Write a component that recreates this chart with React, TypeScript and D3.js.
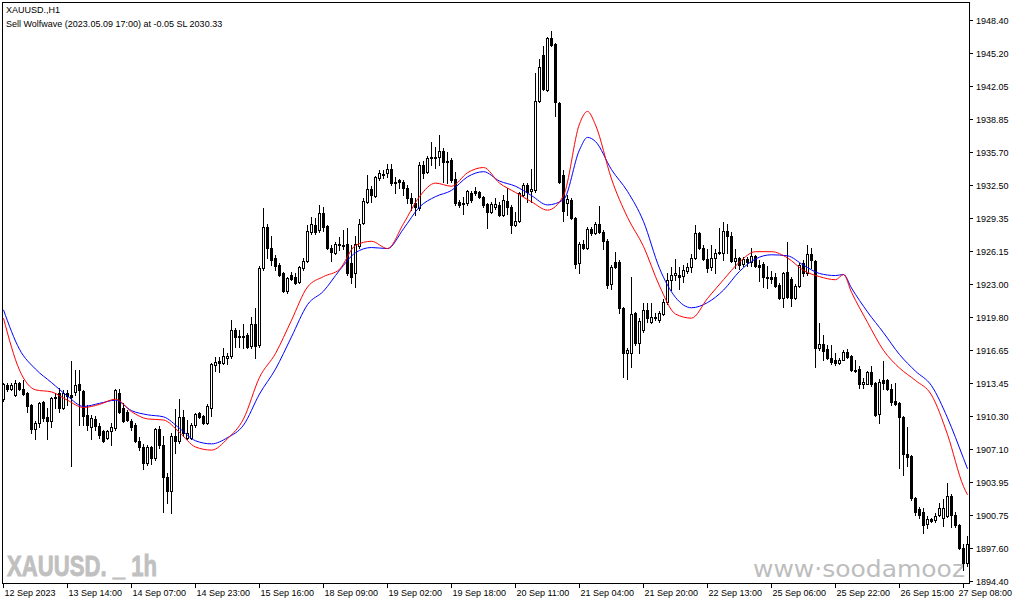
import React from 'react';
import * as d3 from 'd3';

// XAUUSD., H1 candles, one entry per bar, left to right
const opens = [
  1911.9, 1913.3, 1912.9, 1912.3, 1913.5, 1912.9, 1912.5, 1911.3, 1909.0, 1909.6,
  1911.6, 1910.2, 1909.8, 1912.0, 1912.5, 1911.1, 1912.5, 1912.3, 1912.6, 1913.4,
  1912.7, 1910.4, 1909.2, 1910.0, 1909.3, 1908.8, 1908.2, 1908.8, 1909.1, 1912.5,
  1911.1, 1910.7, 1909.8, 1909.4, 1907.9, 1907.3, 1905.8, 1907.3, 1906.2, 1909.0,
  1907.5, 1904.4, 1903.1, 1908.4, 1907.9, 1910.2, 1908.2, 1908.2, 1909.4, 1910.6,
  1910.3, 1909.6, 1911.1, 1915.2, 1915.6, 1915.4, 1915.9, 1916.1, 1918.6, 1918.0,
  1917.9, 1918.1, 1917.0, 1919.1, 1917.1, 1924.5, 1928.5, 1926.5, 1925.5, 1924.8,
  1924.0, 1922.3, 1923.9, 1923.7, 1923.2, 1924.5, 1925.2, 1928.0, 1928.7, 1928.2,
  1929.8, 1928.6, 1926.5, 1926.0, 1926.8, 1926.7, 1926.8, 1925.0, 1924.0, 1926.6,
  1928.9, 1930.9, 1932.1, 1931.5, 1933.2, 1933.6, 1933.7, 1934.1, 1932.8, 1933.0,
  1932.8, 1932.2, 1931.3, 1930.8, 1930.3, 1934.4, 1933.8, 1935.1, 1935.2, 1935.2,
  1935.8, 1934.8, 1934.9, 1933.1, 1930.9, 1930.8, 1930.8, 1931.7, 1931.9, 1931.8,
  1931.4, 1930.7, 1929.9, 1930.4, 1930.6, 1929.6, 1931.0, 1930.4, 1928.7, 1929.1,
  1931.6, 1932.5, 1931.9, 1932.0, 1940.6, 1945.0, 1941.7, 1946.7, 1946.1, 1940.4,
  1933.5, 1930.8, 1931.1, 1929.3, 1925.0, 1926.8, 1926.5, 1928.3, 1927.9, 1928.8,
  1928.0, 1927.1, 1923.0, 1925.1, 1925.1, 1920.7, 1916.3, 1916.3, 1920.2, 1917.3,
  1918.6, 1920.5, 1919.3, 1919.8, 1919.5, 1920.1, 1921.3, 1923.4, 1923.9, 1923.9,
  1923.8, 1924.2, 1924.6, 1925.5, 1927.9, 1926.5, 1925.4, 1924.6, 1925.5, 1926.0,
  1926.0, 1928.1, 1927.6, 1925.2, 1925.5, 1924.9, 1925.4, 1925.1, 1925.7, 1924.8,
  1924.9, 1923.7, 1923.7, 1923.7, 1922.9, 1921.6, 1924.1, 1923.5, 1921.6, 1922.8,
  1925.0, 1924.0, 1925.9, 1925.2, 1916.8, 1917.2, 1916.7, 1915.9, 1915.7, 1915.4,
  1915.7, 1916.4, 1916.1, 1914.7, 1914.8, 1913.4, 1913.4, 1914.5, 1913.5, 1910.5,
  1913.7, 1913.7, 1912.9, 1911.7, 1911.5, 1910.2, 1906.6, 1906.4, 1902.4, 1901.3,
  1901.0, 1899.9, 1900.4, 1900.3, 1900.8, 1900.5, 1900.7, 1902.6, 1900.8, 1899.8,
  1897.6, 1896.1,
];

const highs = [
  1913.5, 1913.5, 1913.5, 1913.7, 1913.6, 1913.7, 1912.6, 1911.4, 1909.8, 1911.6,
  1911.7, 1911.1, 1912.1, 1912.5, 1913.0, 1912.8, 1912.8, 1915.6, 1914.7, 1914.7,
  1912.8, 1911.3, 1910.4, 1910.3, 1909.6, 1908.9, 1908.9, 1909.6, 1912.9, 1912.9,
  1911.5, 1910.9, 1910.0, 1909.6, 1908.3, 1907.6, 1907.5, 1907.4, 1909.1, 1909.3,
  1908.4, 1904.8, 1908.6, 1911.0, 1911.9, 1910.9, 1909.9, 1909.6, 1910.6, 1910.7,
  1910.4, 1911.4, 1915.4, 1916.0, 1916.0, 1916.8, 1916.3, 1919.5, 1918.8, 1918.6,
  1919.1, 1918.3, 1919.8, 1920.7, 1924.7, 1930.3, 1928.8, 1927.6, 1925.8, 1925.0,
  1924.1, 1923.7, 1924.1, 1924.0, 1924.7, 1925.5, 1928.7, 1929.4, 1929.3, 1930.6,
  1930.4, 1928.7, 1926.7, 1927.0, 1927.5, 1928.2, 1928.4, 1926.7, 1927.6, 1929.2,
  1931.3, 1933.5, 1932.4, 1933.4, 1934.0, 1934.0, 1934.5, 1934.5, 1933.3, 1933.1,
  1933.0, 1932.5, 1931.7, 1931.3, 1934.7, 1934.8, 1935.3, 1936.7, 1936.2, 1937.3,
  1936.1, 1935.7, 1935.1, 1933.8, 1931.1, 1931.4, 1932.0, 1931.9, 1932.3, 1931.9,
  1931.5, 1930.8, 1930.9, 1931.3, 1930.9, 1931.6, 1932.2, 1930.6, 1929.9, 1931.8,
  1932.7, 1932.7, 1934.1, 1943.3, 1944.6, 1945.9, 1946.8, 1947.3, 1946.2, 1940.5,
  1934.0, 1931.6, 1931.3, 1929.4, 1927.0, 1927.2, 1928.5, 1928.5, 1929.0, 1930.5,
  1928.2, 1927.3, 1924.8, 1926.1, 1925.3, 1920.8, 1916.8, 1923.7, 1920.3, 1919.7,
  1921.2, 1921.2, 1921.2, 1920.2, 1920.4, 1921.5, 1924.0, 1924.6, 1925.4, 1924.6,
  1924.8, 1925.0, 1925.9, 1928.7, 1928.0, 1926.7, 1926.4, 1926.7, 1926.4, 1928.4,
  1929.0, 1928.8, 1928.0, 1926.4, 1925.6, 1925.6, 1925.6, 1926.5, 1925.8, 1925.3,
  1925.1, 1924.7, 1924.2, 1924.0, 1923.1, 1924.1, 1927.0, 1923.7, 1923.0, 1925.0,
  1925.3, 1926.7, 1926.5, 1925.3, 1919.2, 1918.1, 1917.1, 1917.1, 1916.3, 1915.9,
  1916.6, 1916.7, 1916.2, 1915.7, 1915.1, 1913.9, 1914.6, 1915.1, 1913.6, 1913.8,
  1915.6, 1913.8, 1913.4, 1913.5, 1911.6, 1910.3, 1909.2, 1906.5, 1902.5, 1901.5,
  1901.4, 1900.7, 1900.5, 1900.9, 1901.9, 1902.3, 1903.8, 1902.8, 1901.0, 1899.9,
  1898.0, 1898.7,
];

const lows = [
  1911.7, 1912.7, 1912.8, 1912.2, 1912.8, 1912.3, 1910.7, 1908.6, 1908.1, 1909.2,
  1909.8, 1908.1, 1909.2, 1911.1, 1910.7, 1911.0, 1911.3, 1905.5, 1912.3, 1909.4,
  1909.4, 1908.9, 1908.1, 1908.9, 1908.2, 1907.8, 1908.1, 1907.5, 1908.9, 1910.6,
  1909.7, 1909.8, 1908.9, 1907.8, 1907.0, 1905.2, 1905.6, 1905.7, 1906.0, 1907.2,
  1901.0, 1901.9, 1900.9, 1906.7, 1907.7, 1908.4, 1908.1, 1908.1, 1909.2, 1910.1,
  1909.5, 1909.5, 1910.3, 1914.6, 1914.5, 1915.3, 1915.3, 1915.9, 1916.9, 1916.9,
  1916.8, 1916.8, 1916.8, 1915.9, 1916.9, 1924.3, 1925.5, 1924.8, 1924.3, 1923.8,
  1922.2, 1922.1, 1923.4, 1923.0, 1923.1, 1924.3, 1925.1, 1927.8, 1927.8, 1928.0,
  1928.1, 1926.4, 1925.2, 1925.9, 1926.3, 1926.4, 1923.9, 1923.1, 1922.7, 1926.5,
  1928.8, 1930.8, 1930.9, 1931.4, 1933.0, 1933.2, 1933.3, 1932.5, 1931.7, 1932.2,
  1931.6, 1930.8, 1930.1, 1929.6, 1930.1, 1933.2, 1933.7, 1934.4, 1934.2, 1934.4,
  1932.8, 1932.7, 1932.8, 1930.6, 1930.4, 1929.7, 1930.6, 1930.9, 1931.6, 1931.3,
  1930.4, 1928.4, 1929.8, 1930.2, 1929.5, 1929.5, 1929.7, 1927.9, 1928.6, 1929.0,
  1931.5, 1930.9, 1930.9, 1931.8, 1940.5, 1941.7, 1941.6, 1945.9, 1939.2, 1932.7,
  1929.1, 1929.6, 1929.2, 1924.5, 1924.0, 1926.4, 1926.4, 1927.7, 1927.8, 1927.9,
  1926.4, 1922.6, 1922.5, 1924.5, 1920.2, 1914.0, 1913.8, 1915.0, 1917.1, 1916.3,
  1918.4, 1919.3, 1919.2, 1919.5, 1919.3, 1920.0, 1921.1, 1922.4, 1923.4, 1922.5,
  1923.2, 1924.0, 1924.1, 1925.4, 1926.4, 1925.3, 1924.1, 1924.3, 1924.0, 1925.9,
  1925.3, 1926.0, 1925.1, 1924.5, 1924.4, 1924.7, 1924.7, 1924.7, 1924.6, 1923.3,
  1922.7, 1922.6, 1923.1, 1922.7, 1921.5, 1920.8, 1921.6, 1920.9, 1921.5, 1922.7,
  1923.8, 1923.9, 1924.5, 1915.0, 1916.6, 1915.7, 1915.8, 1915.3, 1915.2, 1915.3,
  1915.7, 1915.9, 1914.6, 1914.5, 1913.0, 1913.0, 1913.4, 1913.2, 1910.3, 1909.6,
  1912.9, 1912.8, 1911.3, 1911.3, 1905.3, 1904.6, 1905.5, 1902.2, 1900.8, 1900.5,
  1899.0, 1899.5, 1900.1, 1900.1, 1900.7, 1899.7, 1900.6, 1899.6, 1899.6, 1897.5,
  1895.5, 1895.8,
];

const closes = [
  1913.4, 1912.9, 1913.3, 1913.5, 1912.9, 1912.4, 1911.2, 1909.0, 1909.6, 1911.5,
  1910.1, 1909.8, 1912.0, 1912.1, 1911.1, 1912.5, 1912.2, 1912.1, 1913.3, 1912.8,
  1910.3, 1909.4, 1910.1, 1909.3, 1908.5, 1907.9, 1908.8, 1909.2, 1912.8, 1910.7,
  1909.8, 1909.9, 1909.2, 1907.9, 1907.3, 1905.8, 1907.3, 1906.2, 1909.0, 1907.5,
  1904.4, 1903.1, 1908.4, 1907.9, 1910.2, 1908.6, 1908.6, 1909.4, 1910.5, 1910.2,
  1909.6, 1911.2, 1915.3, 1915.5, 1915.4, 1916.1, 1916.1, 1918.6, 1917.9, 1917.9,
  1918.0, 1916.9, 1919.1, 1917.0, 1924.5, 1928.5, 1926.5, 1925.3, 1924.7, 1923.9,
  1922.3, 1923.6, 1923.5, 1923.1, 1924.6, 1925.2, 1928.1, 1928.8, 1928.0, 1929.8,
  1928.5, 1926.5, 1926.1, 1926.8, 1926.7, 1926.6, 1924.0, 1923.7, 1926.8, 1928.8,
  1931.0, 1932.1, 1931.6, 1933.3, 1933.7, 1933.5, 1934.1, 1932.7, 1932.7, 1932.8,
  1932.2, 1931.3, 1930.8, 1930.4, 1934.4, 1933.7, 1935.1, 1935.2, 1935.1, 1935.8,
  1934.7, 1934.7, 1933.0, 1930.8, 1930.6, 1930.7, 1931.9, 1931.1, 1931.7, 1931.4,
  1930.6, 1929.9, 1930.7, 1930.7, 1929.6, 1931.1, 1930.4, 1928.7, 1929.1, 1931.7,
  1932.5, 1931.8, 1932.1, 1940.6, 1943.9, 1941.8, 1946.7, 1946.0, 1940.5, 1932.8,
  1930.0, 1931.2, 1929.3, 1924.9, 1926.8, 1926.5, 1928.3, 1927.9, 1928.8, 1928.0,
  1927.1, 1922.9, 1924.6, 1924.6, 1920.7, 1916.3, 1916.6, 1920.1, 1917.3, 1919.4,
  1920.5, 1919.7, 1919.8, 1919.7, 1920.2, 1921.3, 1923.4, 1923.9, 1924.0, 1923.7,
  1924.3, 1924.6, 1925.5, 1927.9, 1926.5, 1925.4, 1924.5, 1925.5, 1926.0, 1926.1,
  1928.1, 1927.6, 1925.2, 1925.5, 1924.8, 1925.4, 1925.1, 1925.7, 1924.7, 1924.6,
  1923.7, 1923.6, 1923.5, 1922.8, 1921.6, 1924.0, 1921.7, 1921.6, 1922.8, 1924.8,
  1924.0, 1925.9, 1925.3, 1916.8, 1917.2, 1916.5, 1915.9, 1915.5, 1915.4, 1915.7,
  1916.4, 1916.0, 1914.7, 1914.6, 1913.4, 1913.6, 1914.5, 1913.4, 1910.4, 1913.6,
  1913.5, 1912.9, 1911.6, 1911.4, 1910.2, 1906.6, 1906.3, 1902.4, 1901.0, 1900.8,
  1899.8, 1900.4, 1900.2, 1900.7, 1901.4, 1901.4, 1902.6, 1900.8, 1899.8, 1897.6,
  1896.1, 1898.0,
];

// two moving averages at these bar numbers
const maBars = [
  0, 4, 8, 12, 16, 20, 24, 28, 32, 36, 40, 44, 48, 52, 56, 60, 64, 68, 72, 76,
  80, 84, 88, 92, 96, 100, 104, 108, 112, 116, 120, 124, 128, 132, 136, 140, 144, 146, 148, 152,
  156, 160, 164, 168, 172, 176, 180, 184, 188, 192, 196, 200, 204, 208, 210, 212, 216, 220, 224, 228,
  232, 236, 240, 241,
];
const maBlue = [
  1920.5, 1916.7, 1914.8, 1913.5, 1912.2, 1911.2, 1911.5, 1911.8, 1910.8, 1910.4,
  1910.2, 1909.1, 1907.9, 1907.6, 1908.2, 1909.4, 1912.4, 1914.8, 1917.9, 1921.0,
  1922.3, 1924.3, 1926.0, 1926.5, 1926.4, 1928.3, 1930.4, 1931.4, 1932.0, 1933.3,
  1933.8, 1932.9, 1932.4, 1931.5, 1930.6, 1931.1, 1935.9, 1937.1, 1936.7, 1934.0,
  1931.9, 1929.0, 1924.5, 1921.7, 1920.7, 1921.2, 1922.4, 1924.2, 1925.4, 1925.8,
  1925.7, 1924.8, 1924.0, 1923.8, 1923.9, 1922.6, 1920.3, 1918.3, 1916.2, 1914.6,
  1913.2, 1910.1, 1906.2, 1905.2,
];
const maRed = [
  1919.7, 1914.7, 1912.8, 1912.6, 1911.8, 1911.1, 1911.4, 1911.9, 1910.7, 1910.0,
  1909.9, 1908.7, 1907.3, 1907.0, 1908.1, 1910.0, 1914.0, 1916.3, 1919.5, 1922.7,
  1923.7, 1924.4, 1926.7, 1927.1, 1926.4, 1928.8, 1931.4, 1932.7, 1932.4, 1933.7,
  1934.2, 1932.7, 1931.8, 1930.9, 1930.1, 1931.5, 1938.4, 1939.6, 1938.3, 1933.1,
  1929.4, 1926.6, 1922.8, 1920.1, 1919.7, 1921.6, 1923.4, 1925.1, 1926.1, 1926.1,
  1925.5, 1924.3, 1923.7, 1923.4, 1923.9, 1922.2, 1919.3, 1916.6, 1914.9, 1913.7,
  1912.3, 1908.5, 1903.5, 1902.7,
];

const priceTicks = [
  1948.40, 1945.20, 1942.05, 1938.85, 1935.70, 1932.50, 1929.35, 1926.15, 1923.00,
  1919.80, 1916.65, 1913.45, 1910.30, 1907.10, 1903.95, 1900.75, 1897.60, 1894.40,
];

const timeTickBars = [0, 16, 32, 48, 64, 80, 96, 112, 128, 144, 160, 176, 192, 208, 224, 240];
const timeLabels = [
  '12 Sep 2023', '13 Sep 14:00', '14 Sep 07:00', '14 Sep 23:00', '15 Sep 16:00', '18 Sep 09:00',
  '19 Sep 02:00', '19 Sep 18:00', '20 Sep 11:00', '21 Sep 04:00', '21 Sep 20:00', '22 Sep 13:00',
  '25 Sep 06:00', '25 Sep 22:00', '26 Sep 15:00', '27 Sep 08:00',
];

const WIDTH = 1015;
const HEIGHT = 605;
const FONT = '"Liberation Sans", Arial, sans-serif';

export default function App() {
  const x = d3.scaleLinear().domain([0, opens.length - 1]).range([3.5, 967.5]);
  const y = d3.scaleLinear().domain([1894.4, 1948.4]).range([581, 20]);

  const maPath = (vals: number[]) =>
    d3.line<number>()
      .x((_, i) => x(maBars[i]))
      .y(d => y(d))
      .curve(d3.curveMonotoneX)(vals) || '';

  return (
    <svg
      width={WIDTH}
      height={HEIGHT}
      style={{ position: 'absolute', left: 0, top: 0, display: 'block' }}
      fontFamily={FONT}
    >
      <defs>
        <clipPath id="plotClip">
          <rect x={3} y={3} width={966} height={580} />
        </clipPath>
      </defs>
      <rect width={WIDTH} height={HEIGHT} fill="#fff" />

      <g clipPath="url(#plotClip)">
        {/* watermarks */}
        <text x={7} y={576} fontSize={30} fontWeight="bold" fill="#c0c0c0"
          stroke="#c0c0c0" strokeWidth={0.9}
          fontFamily='"Liberation Sans Narrow", "Liberation Sans", Arial, sans-serif'
          textLength={150} lengthAdjust="spacingAndGlyphs">XAUUSD. _ 1h</text>
        <text x={753} y={577} fontSize={23} fill="#bdbdbd"
          fontFamily='"DejaVu Sans", sans-serif'
          textLength={212} lengthAdjust="spacingAndGlyphs">www·soodamooz</text>

        {/* candles */}
        <g shapeRendering="crispEdges">
          {opens.map((o, i) => {
            const c = closes[i];
            const cx = Math.floor(x(i)) + 0.5;
            const hi = Math.round(y(Math.max(highs[i], o, c)));
            const lo = Math.round(y(Math.min(lows[i], o, c)));
            const top = Math.round(y(Math.max(o, c)));
            const bot = Math.round(y(Math.min(o, c)));
            return (
              <g key={i}>
                <line x1={cx} x2={cx} y1={hi} y2={lo + 1} stroke="#000" />
                <rect x={cx - 1} y={top + 0.5} width={2} height={Math.max(bot - top, 0)}
                  fill={c >= o ? '#fff' : '#000'} stroke="#000" />
              </g>
            );
          })}
        </g>

        {/* moving averages */}
        <path d={maPath(maBlue)} fill="none" stroke="#0000ff" strokeWidth={1} />
        <path d={maPath(maRed)} fill="none" stroke="#ff0000" strokeWidth={1} />
      </g>

      {/* frame */}
      <rect x={2.5} y={2.5} width={967} height={581} fill="none" stroke="#000" shapeRendering="crispEdges" />

      {/* price axis */}
      <g fontSize={9} fill="#000">
        {priceTicks.map(v => {
          const py = Math.round(y(v)) + 0.5;
          return (
            <g key={v}>
              <line x1={970} x2={973} y1={py} y2={py} stroke="#000" shapeRendering="crispEdges" />
              <text x={976} y={py + 3.2}>{v.toFixed(2)}</text>
            </g>
          );
        })}
      </g>

      {/* time axis; the last label is pinned to the right edge so it stays whole */}
      <g fontSize={9} fill="#000">
        {timeTickBars.map((b, i) => {
          const tx = Math.floor(x(b)) + 0.5;
          const last = i === timeTickBars.length - 1;
          return (
            <g key={b}>
              <line x1={tx} x2={tx} y1={584} y2={588} stroke="#000" shapeRendering="crispEdges" />
              <text x={last ? 1012 : tx + 1} y={596}
                textAnchor={last ? 'end' : 'start'}>{timeLabels[i]}</text>
            </g>
          );
        })}
      </g>

      {/* title */}
      <g fontSize={9} fill="#000">
        <text x={6} y={13}>XAUUSD.,H1</text>
        <text x={6} y={27}>Sell Wolfwave (2023.05.09 17:00) at -0.05 SL 2030.33</text>
      </g>
    </svg>
  );
}
